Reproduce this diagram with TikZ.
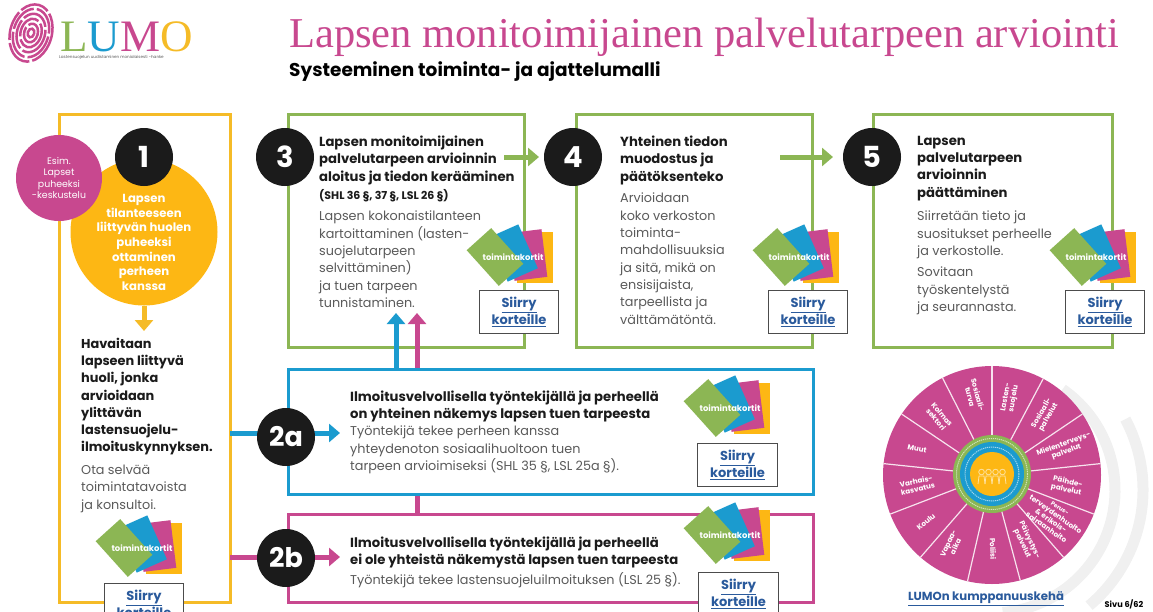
\documentclass[tikz,border=0pt]{standalone}
\usepackage{fontspec}
\setmainfont{Poppins}
\newfontfamily\otsikkofont{Liberation Serif}
\usetikzlibrary{arrows.meta}

\definecolor{keltainen}{HTML}{F5BB27}
\definecolor{oranssi}{HTML}{FDB714}
\definecolor{vihrea}{HTML}{8CB654}
\definecolor{sininen}{HTML}{1B9BCF}
\definecolor{pinkki}{HTML}{C8488F}
\definecolor{musta}{HTML}{1B1B1B}
\definecolor{linkki}{HTML}{2A5A9C}
\definecolor{leipa}{HTML}{5A5A5A}

\tikzset{
	laatikko/.style={rectangle, draw=#1, line width=3pt, fill=white, outer sep=0pt, inner sep=0pt, anchor=north west},
	numero/.style={circle, fill=musta, text=white, minimum size=58pt, inner sep=0pt, font=\fontsize{29}{29}\selectfont\bfseries},
	korostus/.style={inner sep=0pt, anchor=north west, align=left, text=musta, font=\fontsize{13.2}{17.2}\selectfont\bfseries},
	selite/.style={inner sep=0pt, anchor=north west, align=left, text=leipa, font=\fontsize{12.8}{17.3}\selectfont},
	kortti/.style={rectangle, fill=#1, minimum width=48pt, minimum height=33pt, inner sep=0pt},
	siirry/.style={rectangle, draw=black!70, line width=1pt, fill=white, inner sep=0pt, anchor=north west, minimum height=43pt, align=center, text=linkki, font=\fontsize{13}{15.5}\selectfont\bfseries},
	sektori/.style={inner sep=0pt, align=center, text=white, font=\fontsize{7.2}{8}\selectfont\bfseries},
	kortit/.pic={
		\node at (22,0) [kortti=oranssi, rotate=-90, minimum width=51pt, minimum height=36pt] (oranssi) {};
		\node at (15,-2) [kortti=pinkki, rotate=-83] (pinkki) {};
		\node at (0,-4) [kortti=sininen, rotate=-66] (sininen) {};
		\node at (-18,0) [kortti=vihrea, rotate=-48] (vihrea) {};
		\node at (0,0) [text=white, inner sep=0pt, font=\fontsize{8.4}{9}\selectfont\bfseries] (nimi) {toimintakortit};
	}
}

\begin{document}
\begin{tikzpicture}[x=1pt, y=-1pt]

\useasboundingbox (0,0) rectangle (1153,611);
\clip (0,0) rectangle (1153,611);

% logo
\begin{scope}[shift={(31,33)}, rotate=-16]
	\foreach \r in {4,8.5,13,17.5,22,26} {
		\draw[pinkki, line width=2.5pt, dash pattern=on 30pt off 3pt] (0,0) ellipse ({\r*0.8} and {\r*1.12});
	}
\end{scope}
\node at (60,36) [anchor=west, inner sep=0pt, text height=30pt, text depth=0pt, font=\otsikkofont\fontsize{45}{45}\selectfont] (logo) {\textcolor{vihrea}{L}\textcolor{sininen}{U}\textcolor{pinkki}{M}\textcolor{keltainen}{O}};
\node at (59,57) [anchor=west, inner sep=0pt, text=leipa, font=\fontsize{4.1}{5}\selectfont] (hanke) {Lastensuojelun uudistaminen monialaisesti -hanke};

\node at (289,37) [anchor=west, inner sep=0pt, text=pinkki, font=\otsikkofont\fontsize{42.5}{42.5}\selectfont] (otsikko) {Lapsen monitoimijainen palvelutarpeen arviointi};
\node at (289,72) [anchor=west, inner sep=0pt, text=black, font=\fontsize{18.5}{20}\selectfont\bfseries] (alaotsikko) {Systeeminen toiminta- ja ajattelumalli};

% taustan sormenjalki
\foreach \r/\s/\e in {123/-55/85,151/-28/50} {
	\draw[black!6, line width=11pt] (992,490) ++(\s:\r) arc[start angle=\s, end angle=\e, radius=\r];
}

% laatikot
\node at (59,114) [laatikko=keltainen, minimum width=171pt, minimum height=488pt] (b1) {};
\node at (288,114) [laatikko=vihrea, minimum width=236pt, minimum height=233pt] (b3) {};
\node at (576,114) [laatikko=vihrea, minimum width=236pt, minimum height=233pt] (b4) {};
\node at (873,114) [laatikko=vihrea, minimum width=239pt, minimum height=233pt] (b5) {};
\node at (288,514) [laatikko=pinkki, minimum width=525pt, minimum height=88pt] (b2b) {};

\coordinate (t1) at (144,331);
\coordinate (t2a) at (340,433);
\coordinate (t2b) at (340,557);
\coordinate (t34) at (539,157);
\coordinate (t45) at (833,157);
\coordinate (tsin) at (396,313);
\coordinate (tpin) at (417,313);

\begin{scope}[>={Triangle[width=18pt,length=11pt]}, line width=5pt]
	\draw [pinkki, ->] (b2b.north -| tpin) -- (tpin);
\end{scope}

\node at (288,369) [laatikko=sininen, minimum width=525pt, minimum height=125pt] (b2a) {};

% ympyrat
\node at (144,232) [circle, fill=oranssi, minimum size=147pt, inner sep=0pt] (huoli) {};
\node at (59,178) [circle, fill=pinkki, text=white, minimum size=86pt, inner sep=0pt, align=center, font=\fontsize{9.4}{11.2}\selectfont] (esim) {Esim.\\Lapset\\puheeksi\\-keskustelu};

\begin{scope}[>={Triangle[width=18pt,length=11pt]}, line width=5pt]
	\draw [keltainen, ->] (huoli.south) -- (t1);
	\draw [sininen, ->] (b1.east |- t2a) -- (t2a);
	\draw [pinkki, ->] (b1.east |- t2b) -- (t2b);
	\draw [sininen, ->] (b2a.north -| tsin) -- (tsin);
	\draw [vihrea, ->] (504,157) -- (t34);
	\draw [vihrea, ->] (780,157) -- (t45);
\end{scope}

\node at (144,157) [numero] (n1) {1};
\node at (286,437) [numero, font=\fontsize{27}{27}\selectfont\bfseries] (n2a) {2a};
\node at (286,558) [numero, font=\fontsize{27}{27}\selectfont\bfseries] (n2b) {2b};
\node at (285,157) [numero] (n3) {3};
\node at (573,157) [numero] (n4) {4};
\node at (872,157) [numero] (n5) {5};

% tekstit
\node at (144,194) [anchor=north, inner sep=0pt, align=center, text=white, font=\fontsize{11.7}{14.7}\selectfont\bfseries] (huolit) {Lapsen\\tilanteeseen\\liittyvän huolen\\puheeksi\\ottaminen\\perheen\\kanssa};

\node at (81,338) [korostus, font=\fontsize{12.9}{17.2}\selectfont\bfseries] (t1a) {Havaitaan\\lapseen liittyvä\\huoli, jonka\\arvioidaan\\ylittävän\\lastensuojelu-\\ilmoituskynnyksen.};
\node at (81,465) [selite] (t1b) {Ota selvää\\toimintatavoista\\ja konsultoi.};

\node at (319,136) [korostus] (t3a) {Lapsen monitoimijainen\\palvelutarpeen arvioinnin\\aloitus ja tiedon kerääminen};
\node at (319,189) [inner sep=0pt, anchor=north west, text=musta, font=\fontsize{11}{12}\selectfont\bfseries] (t3b) {(SHL 36 §, 37 §, LSL 26 §)};
\node at (319,211) [selite] (t3c) {Lapsen kokonaistilanteen\\kartoittaminen (lasten-\\suojelutarpeen\\selvittäminen)\\ja tuen tarpeen\\tunnistaminen.};

\node at (620,136) [korostus] (t4a) {Yhteinen tiedon\\muodostus ja\\päätöksenteko};
\node at (620,193) [selite] (t4b) {Arvioidaan\\koko verkoston\\toiminta-\\mahdollisuuksia\\ja sitä, mikä on\\ensisijaista,\\tarpeellista ja\\välttämätöntä.};

\node at (917,136) [korostus] (t5a) {Lapsen\\palvelutarpeen\\arvioinnin\\päättäminen};
\node at (917,211) [selite] (t5b) {Siirretään tieto ja\\suositukset perheelle\\ja verkostolle.};
\node at (917,267) [selite] (t5c) {Sovitaan\\työskentelystä\\ja seurannasta.};

\node at (350,391) [korostus] (t2a1) {Ilmoitusvelvollisella työntekijällä ja perheellä\\on yhteinen näkemys lapsen tuen tarpeesta};
\node at (350,426) [selite] (t2a2) {Työntekijä tekee perheen kanssa\\yhteydenoton sosiaalihuoltoon tuen\\tarpeen arvioimiseksi (SHL 35 §, LSL 25a §).};

\node at (350,537) [korostus] (t2b1) {Ilmoitusvelvollisella työntekijällä ja perheellä\\ei ole yhteistä näkemystä lapsen tuen tarpeesta};
\node at (350,572) [selite] (t2b2) {Työntekijä tekee lastensuojeluilmoituksen (LSL 25 §).};

% kortit
\pic (k1) at (142,548) {kortit};
\pic (k3) at (513,257) {kortit};
\pic (k4) at (799,257) {kortit};
\pic (k5) at (1096,257) {kortit};
\pic (k2a) at (730,408) {kortit};
\pic (k2b) at (730,535) {kortit};

\node at (104,583) [siirry, minimum width=79pt] (s1) {\underline{Siirry}\\\underline{korteille}};
\node at (479,290) [siirry, minimum width=79pt] (s3) {\underline{Siirry}\\\underline{korteille}};
\node at (768,290) [siirry, minimum width=79pt] (s4) {\underline{Siirry}\\\underline{korteille}};
\node at (1065,290) [siirry, minimum width=79pt] (s5) {\underline{Siirry}\\\underline{korteille}};
\node at (697,443) [siirry, minimum width=80pt] (s2a) {\underline{Siirry}\\\underline{korteille}};
\node at (698,572) [siirry, minimum width=80pt] (s2b) {\underline{Siirry}\\\underline{korteille}};

% kumppanuuskeha
\node at (992,475) [circle, fill=pinkki, minimum size=218pt, inner sep=0pt] (keha) {};
\begin{scope}[shift={(992,475)}]
	\foreach \a in {90,62,34,6,-21,-49,-75,-103,-131,-159,-186,-214,-243} {
		\draw[white!85!pinkki, line width=1.2pt] (-\a:36) -- (-\a:109);
	}
\end{scope}
\node at (992,474) [circle, fill=vihrea, minimum size=78pt, inner sep=0pt] (rengas1) {};
\node at (992,474) [circle, fill=sininen, minimum size=64pt, inner sep=0pt] (rengas2) {};
\node at (992,474) [circle, fill=oranssi, minimum size=44pt, inner sep=0pt] (rengas3) {};
\draw[white!60!vihrea, line width=1pt, dash pattern=on 1.2pt off 0.8pt] (rengas1.center) circle (35.5);
\draw[white!60!sininen, line width=1pt, dash pattern=on 1.2pt off 0.8pt] (rengas2.center) circle (27);
\foreach \x in {-10.5,-3.5,3.5,10.5} {
	\draw[white!60!oranssi, line width=0.8pt] (992+\x,472) circle (2.8);
	\draw[white!60!oranssi, line width=0.8pt] (992+\x-3.5,484) -- (992+\x-2.5,476) -- (992+\x+2.5,476) -- (992+\x+3.5,484);
}

\foreach \x/\y/\r/\t [count=\n] in {
	974/396/-75/{Sosiaali-\\turva},
	1010/398/80/{Lasten-\\suojelu},
	1045/415/60/{Sosiaali-\\palvelut},
	1065/448/20/{Mielenterveys-\\palvelut},
	1067/486/-12/{Päihde-\\palvelut},
	1053/518/-35/{\fontsize{5.8}{6.8}\selectfont Perus-\\terveydenhuolto\\\& erikois-\\sairaanhoito},
	1026/542/-65/{Päivystys-\\palvelut},
	993/549/-88/{Poliisi},
	952/545/65/{Vapaa-\\aika},
	926/522/40/{Koulu},
	917/485/12/{Varhais-\\kasvatus},
	917/449/-12/{Muut},
	939/417/-50/{Kolmas\\sektori}} {
	\node at (\x,\y) [sektori, rotate=\r] (sektori\n) {\t};
}

\node at (986,599) [inner sep=0pt, text=linkki, font=\fontsize{11.7}{13}\selectfont\bfseries] (kehateksti) {\underline{LUMOn kumppanuuskehä}};
\node at (1124,604) [inner sep=0pt, text=black, font=\fontsize{8.2}{10}\selectfont\bfseries] (sivu) {Sivu 6/62};

\end{tikzpicture}
\end{document}
